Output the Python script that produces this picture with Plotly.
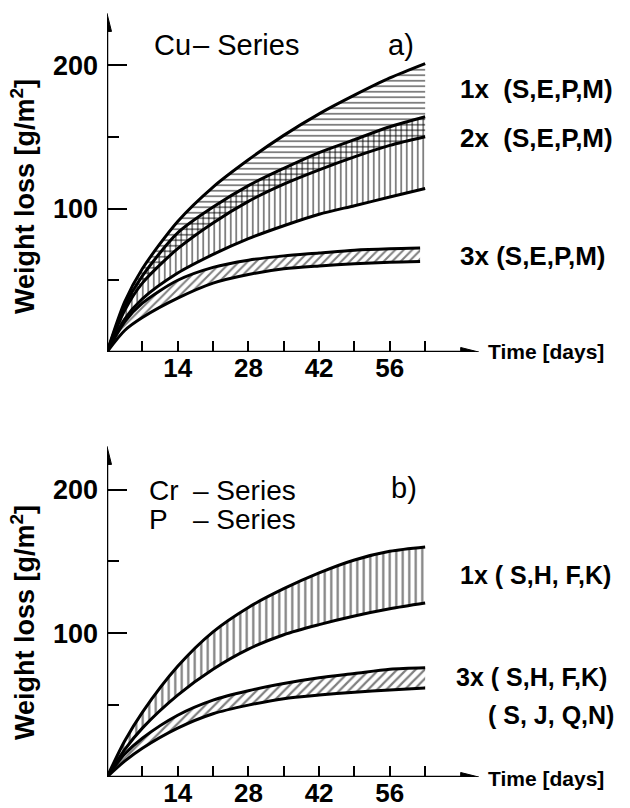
import plotly.graph_objects as go

# ---------------- data ----------------
days = [0, 3.5, 7, 14, 21, 28, 35, 42, 49, 56, 63]
days_3x = [0, 3.5, 7, 14, 21, 28, 35, 42, 49, 56, 62]

# Panel a) Cu-Series
cu_1x_upper = [0, 35, 58, 91, 115, 134, 151, 166, 179, 191, 201]
cu_1x_lower = [0, 29, 48, 72, 90, 105, 117, 127, 136, 144, 150]
cu_2x_upper = [0, 32, 53, 83, 101, 116, 128, 139, 148, 157, 164]
cu_2x_lower = [0, 23, 37, 55, 68, 79, 88, 96, 102, 108, 114]
cu_3x_upper = [0, 21, 34, 50, 59, 64, 67, 69, 71, 72, 72.5]
cu_3x_lower = [0, 15, 24, 37.5, 48, 54, 58, 60, 61.5, 62.5, 63]

# Panel b) Cr-/P-Series
b_1x_upper = [0, 25, 45, 77, 101, 118, 131, 142, 151, 157, 160]
b_1x_lower = [0, 19, 34, 57, 75, 89, 99, 106, 112, 117, 121]
b_3x_upper = [0, 16, 27, 43, 53.5, 60, 65, 69, 72, 75, 76]
b_3x_lower = [0, 11, 20, 34, 44, 50, 54.5, 57, 59, 60.5, 62]

x_major_vals = [14, 28, 42, 56]
x_minor_vals = [7, 21, 35, 49, 63]
y_major_vals = [100, 200]
y_minor_vals = [50, 150]

W, H = 630, 808
FONT = "Liberation Sans, Arial, Helvetica, sans-serif"
X_END = 73.6  # arrow tip of the time axis


def px(x):
    return x / W


def py(y):
    return 1 - y / H


fig = go.Figure()


def band(x, lower, upper, shape, size, xa, ya):
    line = dict(color="black", width=3, shape="spline", smoothing=0.8)
    fig.add_trace(go.Scatter(x=x, y=lower, mode="lines", line=line,
                             xaxis=xa, yaxis=ya, showlegend=False, hoverinfo="skip"))
    fig.add_trace(go.Scatter(x=x, y=upper, mode="lines", line=line,
                             fill="tonexty", fillcolor="rgba(0,0,0,0)",
                             fillpattern=dict(shape=shape, fgcolor="black",
                                              bgcolor="rgba(0,0,0,0)", size=size,
                                              solidity=0.34, fillmode="overlay"),
                             xaxis=xa, yaxis=ya, showlegend=False, hoverinfo="skip"))


# panel a (top): x / y
band(days, cu_1x_lower, cu_1x_upper, "-", 5.5, "x", "y")
band(days, cu_2x_lower, cu_2x_upper, "|", 5.5, "x", "y")
band(days_3x, cu_3x_lower, cu_3x_upper, "/", 6, "x", "y")
# panel b (bottom): x2 / y2
band(days, b_1x_lower, b_1x_upper, "|", 6.5, "x2", "y2")
band(days, b_3x_lower, b_3x_upper, "/", 6.5, "x2", "y2")


def xaxis_cfg(anchor):
    return dict(domain=[px(107), px(480.7)], range=[0, 74], anchor=anchor,
                tickmode="array", tickvals=x_major_vals,
                ticks="inside", ticklen=11, tickwidth=2, tickcolor="black",
                minor=dict(tickvals=x_minor_vals, ticks="inside", ticklen=11,
                           tickwidth=2, tickcolor="black", showgrid=False),
                showgrid=False, zeroline=False, showline=False,
                tickfont=dict(family=FONT, size=26, color="black", weight="bold"),
                ticklabelstandoff=-2, automargin=False, fixedrange=True)


def yaxis_cfg(anchor, dom, top):
    return dict(domain=dom, range=[0, top], anchor=anchor,
                tickmode="array", tickvals=y_major_vals,
                ticks="inside", ticklen=20, tickwidth=2, tickcolor="black",
                minor=dict(tickvals=y_minor_vals, ticks="inside", ticklen=12,
                           tickwidth=2, tickcolor="black", showgrid=False),
                showgrid=False, zeroline=False, showline=False,
                tickfont=dict(family=FONT, size=27, color="black", weight="bold"),
                ticklabelstandoff=8, automargin=False, fixedrange=True)


fig.update_layout(
    width=W, height=H,
    margin=dict(l=0, r=0, t=0, b=0),
    paper_bgcolor="white", plot_bgcolor="rgba(0,0,0,0)",
    showlegend=False,
    xaxis=xaxis_cfg("y"),
    yaxis=yaxis_cfg("x", [py(352), py(12)], 237),
    xaxis2=xaxis_cfg("y2"),
    yaxis2=yaxis_cfg("x2", [py(777), py(445)], 231),
)

# axis lines with arrowheads
for xr, yr, top in (("x", "y", 236), ("x2", "y2", 230)):
    fig.add_shape(type="line", xref=xr, yref=yr, x0=0, y0=0, x1=X_END - 1, y1=0,
                  line=dict(color="black", width=2.5))
    fig.add_shape(type="line", xref=xr, yref=yr, x0=0, y0=0, x1=0, y1=top - 4,
                  line=dict(color="black", width=2.5))
    fig.add_shape(type="path", xref=xr, yref=yr, xsizemode="pixel", ysizemode="pixel",
                  xanchor=X_END, yanchor=0, path="M0,0 L-18,4.5 L-18,-4.5 Z",
                  fillcolor="black", line=dict(color="black", width=1))
    fig.add_shape(type="path", xref=xr, yref=yr, xsizemode="pixel", ysizemode="pixel",
                  xanchor=0, yanchor=top, path="M0,0 L-4.5,-18 L4.5,-18 Z",
                  fillcolor="black", line=dict(color="black", width=1))


def label(text, x, y, size, bold=False, anchor="left", angle=0):
    fig.add_annotation(text=text, x=px(x), y=py(y), xref="paper", yref="paper",
                       xanchor=anchor, yanchor="middle", showarrow=False,
                       textangle=angle,
                       font=dict(family=FONT, size=size, color="black",
                                 weight="bold" if bold else "normal"))


NB = "\u00a0"
# panel a texts
label("Cu", 152, 45, 29)
label("\u2013 Series", 191, 45, 29)
label("a)", 386, 45, 29)
label("1x" + NB * 2 + "(S,E,P,M)", 458, 89, 26, bold=True)
label("2x" + NB * 2 + "(S,E,P,M)", 458, 138, 26, bold=True)
label("3x" + NB + "(S,E,P,M)", 458, 256, 26, bold=True)
label("Time [days]", 486, 351, 21, bold=True)
label("Weight loss [g/m<sup>2</sup>]", 23, 197, 27, bold=True, anchor="center", angle=-90)

# panel b texts
label("Cr", 147, 490, 28)
label("\u2013 Series", 191, 490, 28)
label("P", 147, 519, 28)
label("\u2013 Series", 191, 519, 28)
label("b)", 389, 488, 29)
label("1x" + NB + "(" + NB + "S,H," + NB + "F,K)", 458, 575, 25, bold=True)
label("3x" + NB + "(" + NB + "S,H," + NB + "F,K)", 454, 677, 25, bold=True)
label("(" + NB + "S," + NB + "J," + NB + "Q,N)", 486, 715, 25, bold=True)
label("Time [days]", 486, 778, 21, bold=True)
label("Weight loss [g/m<sup>2</sup>]", 23, 623, 27, bold=True, anchor="center", angle=-90)

fig.write_html("out.html",
               config={"displayModeBar": False, "staticPlot": True},
               post_script="document.body.style.margin='0px';"
                           "document.documentElement.style.overflow='hidden';")
